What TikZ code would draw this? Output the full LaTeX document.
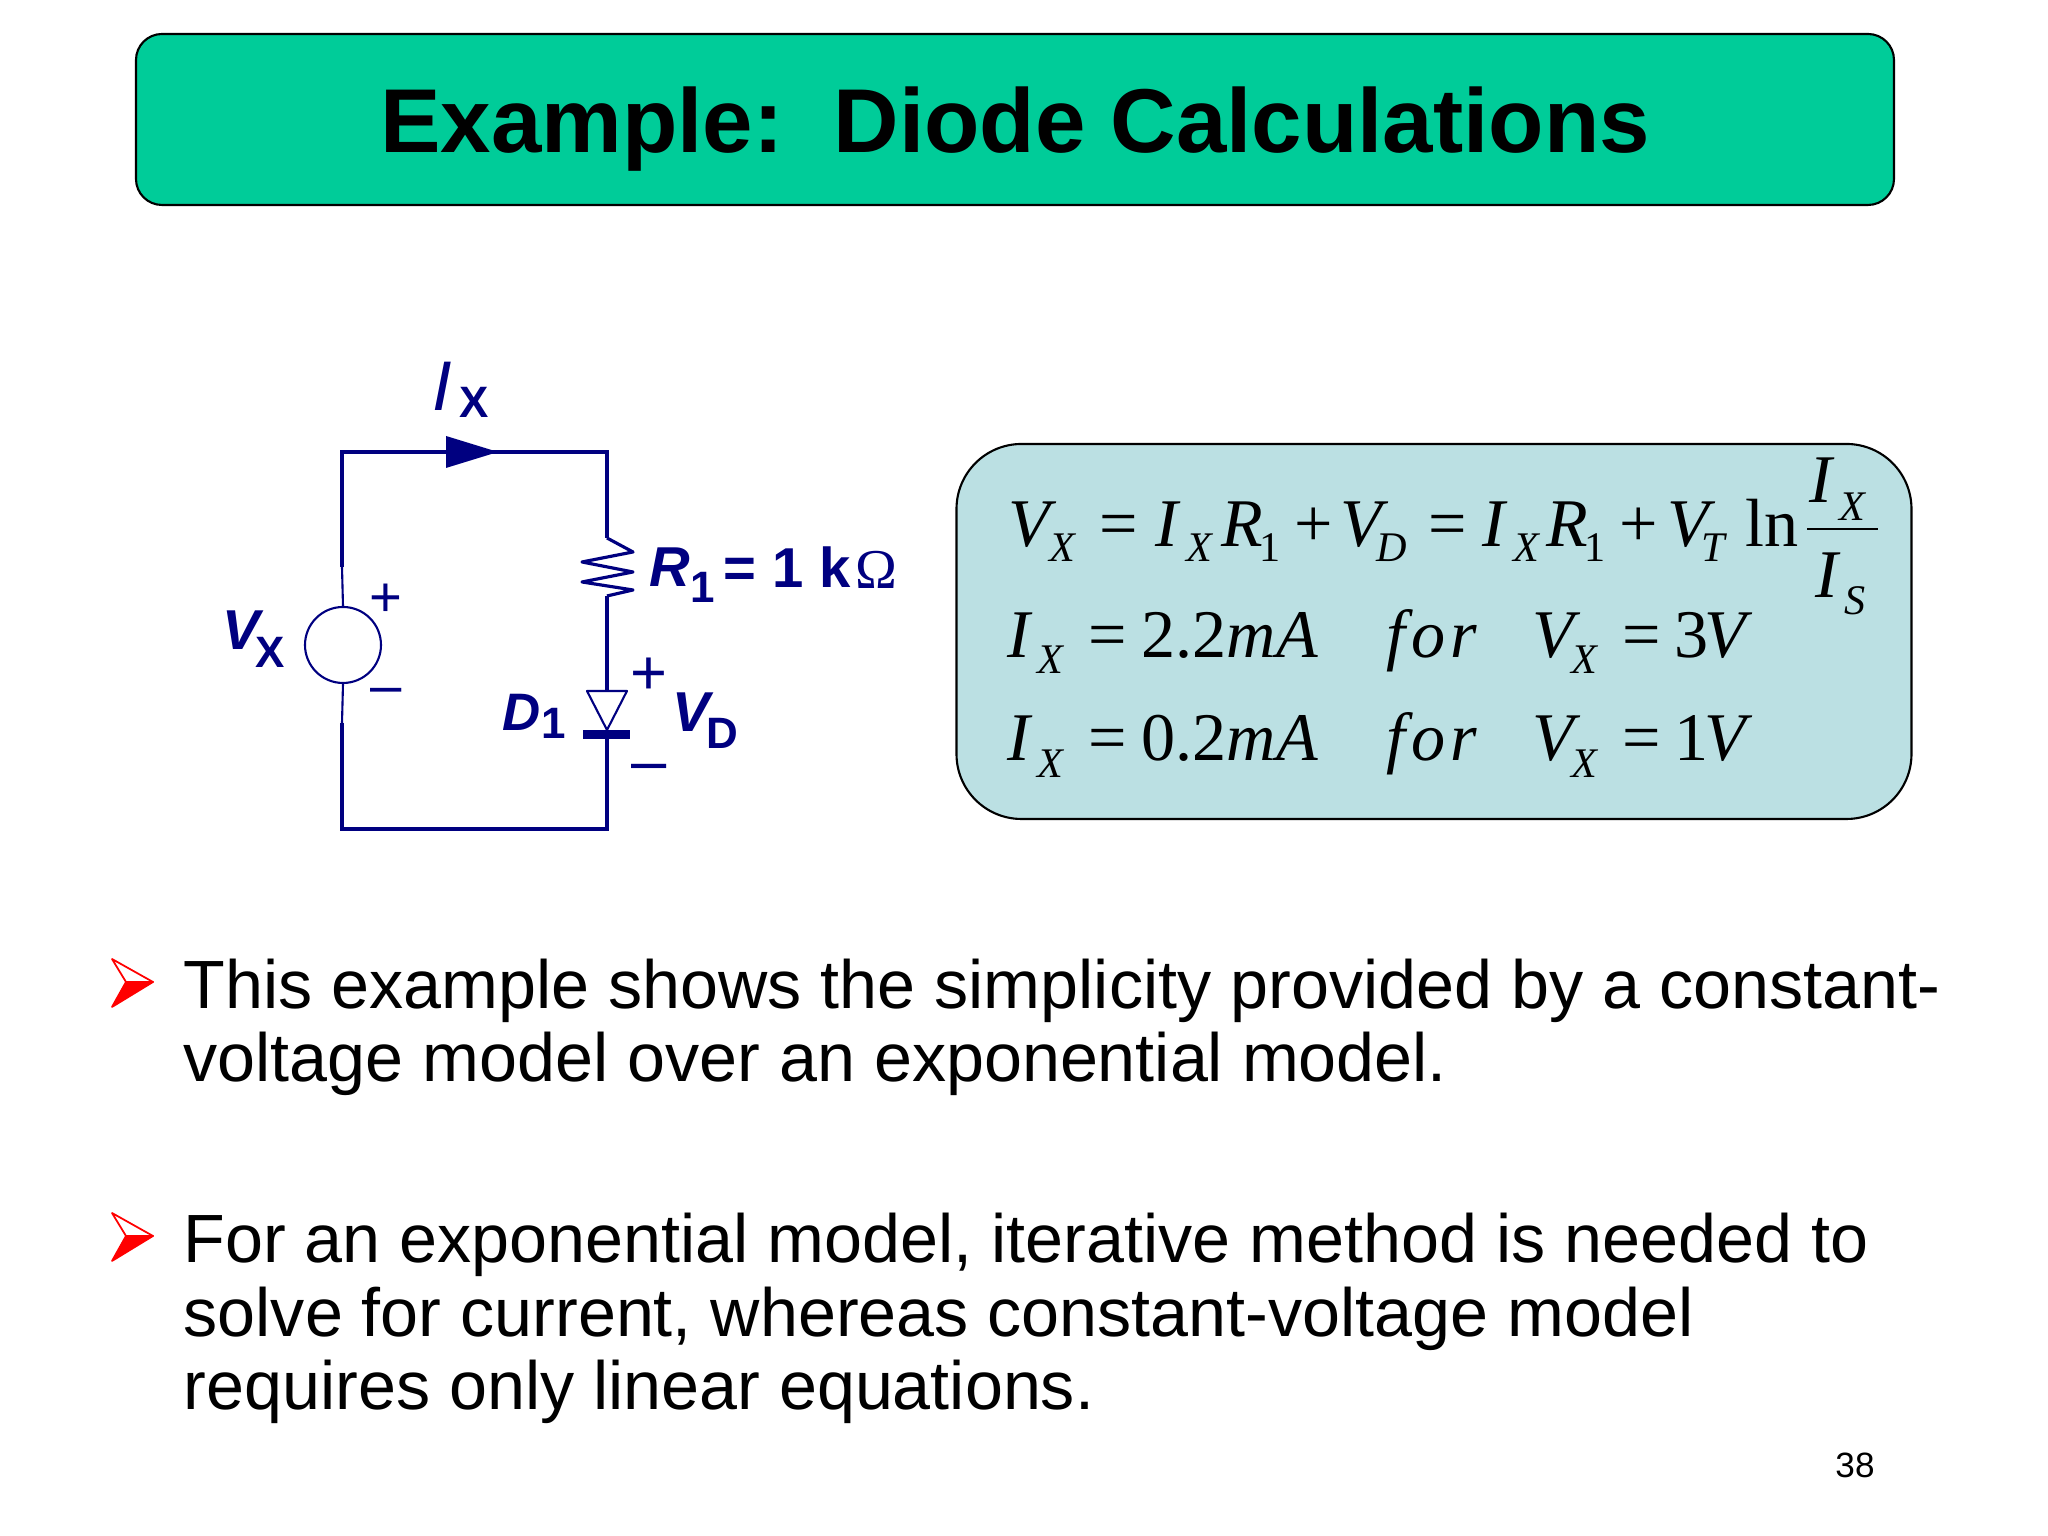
\documentclass[tikz,border=0pt]{standalone}
\usepackage{fontspec}
\setmainfont{Liberation Sans}
\newfontfamily\eqfont{Liberation Serif}
\definecolor{titlegreen}{HTML}{00CC99}
\definecolor{eqblue}{HTML}{BBE0E3}
\definecolor{cirblue}{HTML}{000080}
\tikzset{
	wire/.style={draw=cirblue, line width=1.2pt},
	thinwire/.style={draw=cirblue, line width=0.6pt, line join=round},
	cirbold/.style={text=cirblue, inner sep=0, font=\fontsize{16}{16}\selectfont\bfseries\itshape},
	cirsub/.style={text=cirblue, inner sep=0, font=\fontsize{12.5}{12.5}\selectfont\bfseries},
	cirsign/.style={text=cirblue, inner sep=0, font=\fontsize{16}{16}\selectfont},
	eqmain/.style={anchor=base west, inner sep=0, font=\eqfont\fontsize{19.4}{19.4}\selectfont\itshape},
	eqsub/.style={anchor=base west, inner sep=0, font=\eqfont\fontsize{12}{12}\selectfont\itshape},
	bodytext/.style={anchor=base west, align=left, inner sep=0, font=\fontsize{19.42}{21.05}\selectfont},
}
\begin{document}
\begin{tikzpicture}
	\useasboundingbox (0, 0) rectangle (20.48, 15.36);
	%%%%% TITLE %%%%%
	\node[draw=black, fill=titlegreen, rounded corners=0.26cm, line width=0.6pt, minimum width=17.58cm, minimum height=1.71cm, inner sep=0, text depth=0pt, font=\fontsize{25.8}{25.8}\selectfont\bfseries] (title) at (10.15, 14.165) {Example:\ \ Diode Calculations};

	%%%%% CIRCUIT %%%%%
	\coordinate (topleft) at (3.42, 10.84);
	\coordinate (topright) at (6.07, 10.84);
	\coordinate (botleft) at (3.42, 7.07);
	\coordinate (botright) at (6.07, 7.07);
	\coordinate (leftup) at (3.42, 9.69);
	\coordinate (leftdown) at (3.42, 8.13);
	\coordinate (resup) at (6.07, 9.98);
	\coordinate (resdown) at (6.07, 9.40);
	\coordinate (diodeup) at (6.07, 8.45);
	\coordinate (diodedown) at (6.07, 7.97);
	\node[circle, thinwire, minimum size=0.76cm, inner sep=0] (vsource) at (3.43, 8.91) {};

	\draw[wire] (leftup) -- (topleft) -- (topright) -- (resup);
	\draw[wire] (leftdown) -- (botleft) -- (botright) -- (diodedown);
	\draw[thinwire] (leftup) -- (vsource.north);
	\draw[thinwire] (vsource.south) -- (leftdown);
	\draw[wire] (resdown) -- (diodeup);
	\fill[cirblue] (4.46, 11.00) -- (4.98, 10.84) -- (4.46, 10.68) -- cycle;
	\draw[thinwire, line width=0.9pt] (resup) -- (6.33, 9.84) -- (5.82, 9.74) -- (6.33, 9.64) -- (5.82, 9.54) -- (6.33, 9.46) -- (resdown);
	\draw[thinwire] (5.87, 8.45) -- (6.27, 8.45) -- (6.07, 8.06) -- cycle;
	\fill[cirblue] (5.83, 8.06) rectangle (6.30, 7.97);

	\node[cirbold, font=\fontsize{20}{20}\selectfont\itshape] (ilabel) at (4.42, 11.50) {I};
	\node[cirsub] (ilabelx) at (4.74, 11.34) {X};
	\node[cirbold] (vlabel) at (2.41, 9.06) {V};
	\node[cirsub] (vlabelx) at (2.70, 8.84) {X};
	\node[cirsign] (vplus) at (3.86, 9.36) {+};
	\node[cirsign] (vminus) at (3.86, 8.40) {–};
	\node[cirbold] (rlabel) at (6.70, 9.69) {R};
	\node[cirsub] (rlabelsub) at (7.03, 9.49) {1};
	\node[cirsub, font=\fontsize{16}{16}\selectfont\bfseries, anchor=west] (rvalue) at (7.23, 9.69) {= 1 k};
	\node[inner sep=0, text=cirblue, font=\eqfont\fontsize{16}{16}\selectfont] (rohm) at (8.76, 9.66) {Ω};
	\node[cirbold, font=\fontsize{15}{15}\selectfont\bfseries\itshape] (dlabel) at (5.22, 8.24) {D};
	\node[cirsub] (dlabelsub) at (5.54, 8.13) {1};
	\node[cirsign, font=\fontsize{18}{18}\selectfont] (dplus) at (6.49, 8.60) {+};
	\node[cirsign, font=\fontsize{18}{18}\selectfont] (dminus) at (6.49, 7.63) {–};
	\node[cirbold] (vdlabel) at (6.91, 8.24) {V};
	\node[cirsub] (vdlabelsub) at (7.22, 8.03) {D};

	%%%%% EQUATIONS %%%%%
	\node[draw=black, fill=eqblue, rounded corners=0.65cm, line width=0.6pt, minimum width=9.55cm, minimum height=3.75cm, inner sep=0] (eqbox) at (14.34, 9.045) {};
	\draw[line width=0.5pt] (18.07, 10.07) -- (18.78, 10.07);

	\foreach \xp/\tx [count=\n] in {10.08/V, 10.99/{\upshape =}, 11.55/I, 12.21/R, 12.94/{\upshape +}, 13.40/V, 14.28/{\upshape =}, 14.82/I, 15.46/R, 16.19/{\upshape +}, 16.665/V, 17.45/{\upshape ln}}
		\node[eqmain] (rowa\n) at (\xp, 9.89) {\tx};
	\foreach \xp/\tx [count=\n] in {10.49/X, 11.855/X, 12.59/{\upshape 1}, 13.76/D, 15.13/X, 15.84/{\upshape 1}, 17.01/T}
		\node[eqsub] (suba\n) at (\xp, 9.74) {\tx};
	\node[eqmain] (fracnum) at (18.09, 10.33) {I};
	\node[eqsub] (fracnumx) at (18.39, 10.15) {X};
	\node[eqmain] (fracden) at (18.15, 9.38) {I};
	\node[eqsub] (fracdens) at (18.44, 9.21) {S};

	\foreach \yb/\ys/\val/\volt [count=\n] in {8.78/8.62/2.2/3, 7.75/7.58/0.2/1} {
		\node[eqmain] (rowi\n) at (10.07, \yb) {I};
		\node[eqsub] (subi\n) at (10.37, \ys) {X};
		\node[eqmain] (rowe\n) at (10.88, \yb) {\upshape =};
		\node[eqmain] (rowc\n) at (11.41, \yb) {{\upshape\val}mA};
		\node[eqmain] (rowf\n) at (13.86, \yb) {f\kern0.08em o\kern0.08em r};
		\node[eqmain] (rowv\n) at (15.32, \yb) {V};
		\node[eqsub] (subv\n) at (15.71, \ys) {X};
		\node[eqmain] (rowq\n) at (16.22, \yb) {\upshape =};
		\node[eqmain] (rowt\n) at (16.74, \yb) {{\upshape\volt}\kern-0.06em V};
	}

	%%%%% BULLETS %%%%%
	\foreach \yb in {5.54, 3.00} {
		\draw[red, line width=0.5pt, line join=round] (1.12, {\yb+0.23}) -- (1.53, \yb) -- (1.26, \yb) -- cycle;
		\draw[red, fill=red, line width=0.5pt, line join=round] (1.12, {\yb-0.25}) -- (1.53, \yb) -- (1.26, \yb) -- cycle;
	}
	\node[bodytext] (pointa) at (1.83, 4.54) {This example shows the simplicity provided by a constant-\\voltage model over an exponential model.};
	\node[bodytext] (pointb) at (1.83, 1.26) {For an exponential model, iterative method is needed to\\solve for current, whereas constant-voltage model\\requires only linear equations.};

	\node[inner sep=0, font=\fontsize{10}{10}\selectfont] (pagenum) at (18.55, 0.71) {38};
	%%%%% END %%%%%
\end{tikzpicture}
\end{document}
